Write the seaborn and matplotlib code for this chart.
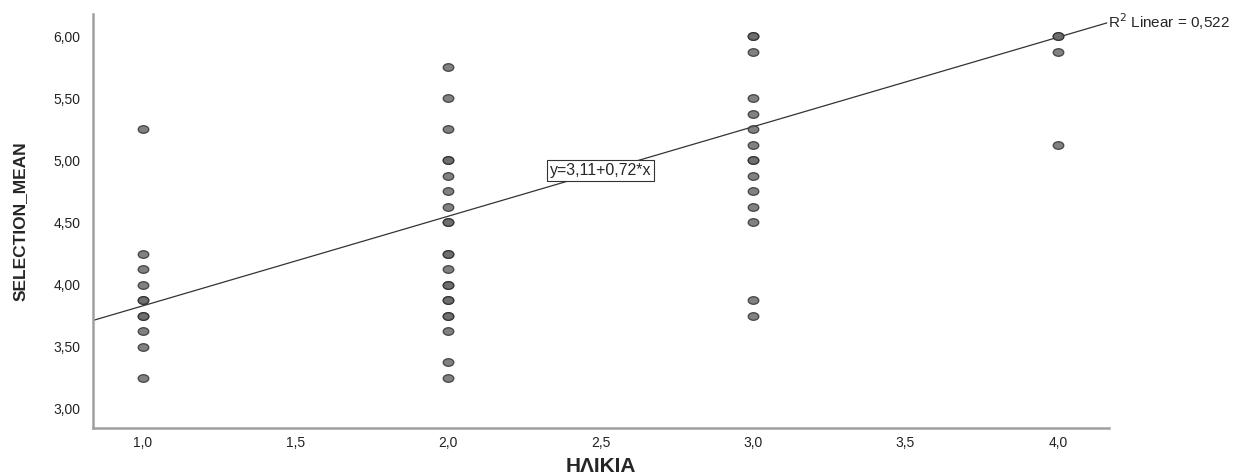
import numpy as np
import pandas as pd
import matplotlib
matplotlib.use("Agg")
import matplotlib.pyplot as plt
from matplotlib.path import Path
from matplotlib.transforms import Affine2D
from matplotlib.ticker import FuncFormatter
import seaborn as sns

# values (duplicates = darker dots)
age_1 = [5.25, 4.25, 4.125, 4.0, 3.875, 3.875, 3.75, 3.75, 3.625, 3.5, 3.25]
age_2 = [5.75, 5.5, 5.25, 5.0, 5.0, 4.875, 4.75, 4.625, 4.5, 4.5, 4.25, 4.25,
         4.125, 4.0, 4.0, 3.875, 3.875, 3.75, 3.75, 3.625, 3.375, 3.25]
age_3 = [6.0, 6.0, 5.875, 5.5, 5.375, 5.25, 5.125, 5.0, 5.0, 4.875, 4.75,
         4.625, 4.5, 3.875, 3.75]
age_4 = [6.0, 6.0, 5.875, 5.125]

intercept = 3.11
slope = 0.72
r2 = 0.522

x_ticks = [1.0, 1.5, 2.0, 2.5, 3.0, 3.5, 4.0]
y_ticks = [3.0, 3.5, 4.0, 4.5, 5.0, 5.5, 6.0]

df = pd.DataFrame({
    "ΗΛΙΚΙΑ": [1.0] * len(age_1) + [2.0] * len(age_2) + [3.0] * len(age_3) + [4.0] * len(age_4),
    "SELECTION_MEAN": age_1 + age_2 + age_3 + age_4,
})

sns.set_style("white")
plt.rcParams["font.family"] = ["Liberation Sans", "DejaVu Sans"]

fig = plt.figure(figsize=(12.45, 4.75), dpi=100)
ax = fig.add_axes([0.0747, 0.099, 0.816, 0.8715])

xmin, xmax = 0.836, 4.167
ymin, ymax = 2.847, 6.177

# slightly flattened dots like the original
ell = Path.unit_circle().transformed(Affine2D().scale(1.0, 0.72))
sns.scatterplot(data=df, x="ΗΛΙΚΙΑ", y="SELECTION_MEAN", ax=ax, marker=ell,
                s=58, color="#6b6b6b", edgecolor="#2e2e2e", linewidth=0.9,
                alpha=0.85, zorder=3)

# fit line
fit_x = np.array([xmin, 4.16])
fit = pd.DataFrame({"x": fit_x, "y": intercept + slope * fit_x})
sns.lineplot(data=fit, x="x", y="y", ax=ax, color="#333333", linewidth=0.9, zorder=2)

ax.text(4.163, intercept + slope * 4.163 + 0.01,
        "R$^2$ Linear = " + f"{r2:.3f}".replace(".", ","),
        fontsize=11, va="center", ha="left", clip_on=False)
ax.text(2.5, 4.92, f"y={intercept:.2f}+{slope:.2f}*x".replace(".", ","),
        fontsize=11.5, ha="center", va="center", zorder=4,
        bbox=dict(boxstyle="square,pad=0.2", fc="white", ec="#333333", lw=0.8))

ax.set_xlim(xmin, xmax)
ax.set_ylim(ymin, ymax)
ax.set_xticks(x_ticks)
ax.set_yticks(y_ticks)
ax.xaxis.set_major_formatter(FuncFormatter(lambda v, p: f"{v:.1f}".replace(".", ",")))
ax.yaxis.set_major_formatter(FuncFormatter(lambda v, p: f"{v:.2f}".replace(".", ",")))
ax.tick_params(axis="both", length=0, labelsize=10, labelcolor="#222222")
ax.tick_params(axis="x", pad=6)
ax.tick_params(axis="y", pad=9)

for s in ["top", "right"]:
    ax.spines[s].set_visible(False)
for s in ["left", "bottom"]:
    ax.spines[s].set_color("#a0a0a0")
    ax.spines[s].set_linewidth(1.8)

ax.set_xlabel("ΗΛΙΚΙΑ", fontsize=15, fontweight="bold")
ax.xaxis.set_label_coords(0.50, -0.092)
ax.xaxis.label.set_va("center")
ax.set_ylabel("SELECTION_MEAN", fontsize=12.5, fontweight="bold",
              family=["Liberation Sans Narrow", "Liberation Sans"])
ax.yaxis.set_label_coords(-0.072, 0.50)
ax.yaxis.label.set_va("center")

fig.savefig("out.png", dpi=100)
